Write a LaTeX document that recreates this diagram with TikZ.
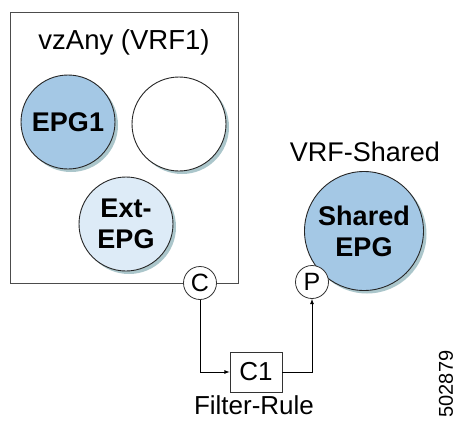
\documentclass[tikz,border=0pt]{standalone}
\usepackage{fontspec}
\setmainfont{Liberation Sans}
\usetikzlibrary{positioning,shadows}
\definecolor{epgblue}{RGB}{164,200,229}
\definecolor{extblue}{RGB}{221,235,247}
\definecolor{shadowteal}{RGB}{70,130,140}
\tikzset{
  epg/.style={circle, draw=black!85, line width=0.9pt, minimum size=94pt, inner sep=0pt,
    align=center, font=\fontsize{27}{29}\selectfont\bfseries,
    drop shadow={shadow xshift=3pt, shadow yshift=-3pt, fill=shadowteal, opacity=0.45}},
  port/.style={circle, draw=black!80, fill=white, line width=0.8pt, minimum size=33pt, inner sep=0pt,
    font=\fontsize{25}{27}\selectfont},
  lbl/.style={font=\fontsize{26}{28}\selectfont, inner sep=0pt}
}
\begin{document}
\begin{tikzpicture}[x=1pt,y=-1pt]
  \useasboundingbox[fill=white] (0,0) rectangle (459,421);
  % vzAny container
  \node[draw=black!70, line width=0.9pt, minimum width=228pt, minimum height=271pt] (vzany) at (124,147.5) {};
  \node[lbl, font=\fontsize{27.5}{29}\selectfont] (vzanytitle) at (124,42) {vzAny (VRF1)};
  \node[epg, fill=epgblue] (epgone) at (68,122) {EPG1};
  \node[epg, fill=white] (blank) at (179,124) {};
  \node[epg, fill=extblue, font=\fontsize{27}{31}\selectfont\bfseries] (extepg) at (126,224) {Ext-\\EPG};
  % shared side
  \node[lbl, font=\fontsize{27}{29}\selectfont] (vrfshared) at (365,152) {VRF-Shared};
  \node[epg, fill=epgblue, minimum size=119pt, font=\fontsize{27}{31}\selectfont\bfseries] (sharedepg) at (364,231) {Shared\\EPG};
  % ports
  \node[port] (cons) at (200,283) {C};
  \node[port] (prov) at (312,282) {P};
  % contract
  \node[draw=black!80, line width=0.8pt, minimum width=52pt, minimum height=40pt, lbl] (conone) at (256,372) {C1};
  \node[lbl, anchor=base] (filterrule) at (254,414) {Filter-Rule};
  \draw[->,>=latex, line width=0.8pt] (cons.south) |- (conone.west);
  \draw[->,>=latex, line width=0.8pt] (conone.east) -| (prov.south);
  \node[font=\fontsize{20}{22}\selectfont, rotate=90, inner sep=0pt] (figno) at (446,384) {502879};
\end{tikzpicture}
\end{document}
